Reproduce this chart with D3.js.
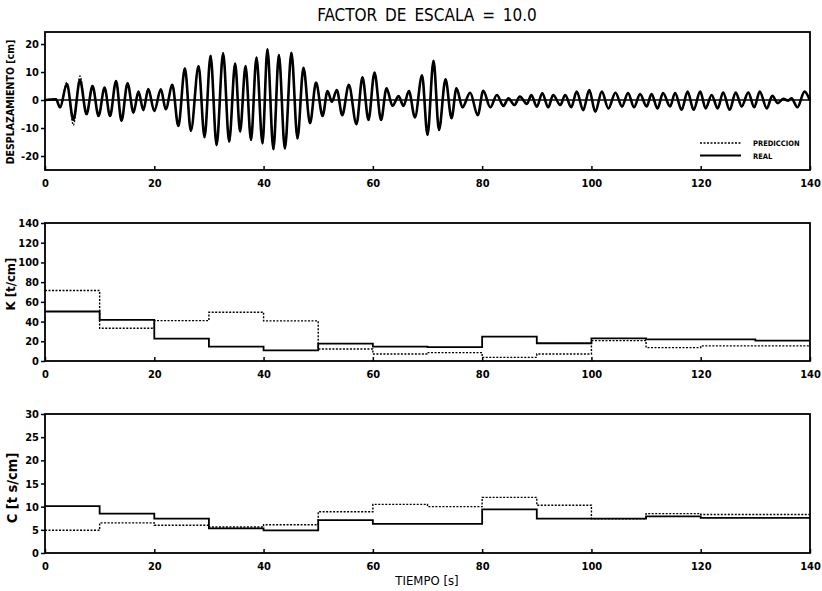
<!DOCTYPE html>
<html>
<head>
<meta charset="utf-8">
<script src="https://cdn.jsdelivr.net/npm/d3@7"></script>
<style>
    body { margin: 0; background: #fff; }
    svg text { font-family: "Liberation Sans Narrow", "DejaVu Sans Condensed", "Liberation Sans", sans-serif; fill: #000; }
    .tick text { font-weight: bold; font-size: 11px; }
</style>
</head>
<body>
<svg id="chart" width="822" height="591"></svg>
<script>
    // desplazamiento: picos y valles [t (s), d (cm)]
    var desp_real = [
        [0,0],[2.0,0.3],[2.75,-2.6],[4.0,5.7],[5.2,-7.1],[6.4,7.1],[7.6,-5],[8.7,5],[9.8,-5.7],[10.9,4.4],
        [11.9,-5.7],[13.0,6.8],[14.0,-7.4],[15.1,6],[16.2,-4.5],[17.1,3],[18.0,-3.6],[18.9,3.9],[20.0,-3.9],[21.2,3.8],
        [22.1,-3.3],[23.3,5.4],[24.4,-9.3],[25.6,11.3],[26.7,-11],[28.1,12.1],[29.2,-13.3],[30.3,15.8],[31.4,-16.1],[32.6,16.7],
        [33.7,-14.9],[34.8,13],[35.7,-11.3],[36.7,12.1],[37.7,-14.3],[38.7,15.2],[39.8,-15.5],[40.7,18.1],[41.8,-17.6],[42.8,16.1],
        [43.9,-17.3],[45.1,16.9],[46.2,-13.7],[47.3,11.5],[48.5,-8.3],[49.6,6.2],[50.8,-5.7],[51.7,3.2],[52.5,-0.6],[53.4,3.6],
        [54.4,-5.4],[55.6,5.4],[57.0,-8.6],[58.1,8.1],[59.2,-7.1],[60.3,9.8],[61.5,-7.1],[62.5,4.2],[63.6,-2.1],[64.7,1.4],
        [65.6,-2.1],[66.6,3.2],[67.7,-6.2],[69.0,8.8],[70.0,-12.5],[71.1,14.0],[72.1,-10.7],[73.3,7.4],[74.4,-6.5],[75.3,4.2],
        [76.4,-2.6],[77.8,2.6],[79.2,-5.4],[80.2,3.3],[81.5,-2.6],[82.7,1.8],[83.9,-2.1],[84.8,0.6],[85.9,-1.8],[86.9,1.2],
        [88.2,-1.4],[89.0,1.8],[90.0,-2.4],[91.0,2.4],[92.1,-2.6],[93.0,1.8],[94.3,-1.8],[95.2,1.8],[96.3,-2.6],[97.3,3.0],
        [98.5,-3.6],[99.6,3.6],[100.7,-4.2],[101.9,3.0],[103.1,-3.0],[104.4,2.6],[105.6,-2.3],[106.7,2.5],[107.8,-2.6],[108.9,2.1],
        [110.1,-2.3],[111.0,2.1],[112.1,-3],[113.1,2.5],[114.4,-2.3],[115.3,2.5],[116.5,-3.5],[117.6,3.0],[118.7,-3.5],[119.9,3.0],
        [120.9,-3.0],[122.0,1.8],[123.1,-3],[124.1,2.7],[125.3,-3.5],[126.4,2.7],[127.5,-2.3],[128.7,2.7],[129.8,-2.6],[130.8,3.0],
        [132.1,-3],[133.1,1.5],[134.1,-1.1],[135.1,0.4],[136.0,-0.2],[136.6,0.6],[137.7,-2.6],[139.0,3.0],[140,-0.2]
    ];
    var desp_pred = [
        [0,0],[2.0,0.4],[2.75,-2.8],[4.0,6.3],[5.2,-9.0],[6.4,8.6],[7.6,-5.5],[8.7,5.2],[9.8,-5.9],[10.9,4.6],
        [11.9,-5.8],[13.0,6.9],[14.0,-7.5],[15.1,6.1],[16.2,-4.6],[17.1,3.1],[18.0,-3.7],[18.9,4.0],[20.0,-4.0],[21.2,3.9],
        [22.1,-3.4],[23.3,5.5],[24.4,-9.4],[25.6,11.4],[26.7,-11.1],[28.1,12.2],[29.2,-13.4],[30.3,15.9],[31.4,-16.2],[32.6,16.8],
        [33.7,-15.0],[34.8,13.1],[35.7,-11.4],[36.7,12.2],[37.7,-14.4],[38.7,15.3],[39.8,-15.6],[40.7,18.2],[41.8,-17.7],[42.8,16.2],
        [43.9,-17.4],[45.1,17.0],[46.2,-13.8],[47.3,11.6],[48.5,-8.4],[49.6,6.3],[50.8,-5.8],[51.7,3.3],[52.5,-0.7],[53.4,3.7],
        [54.4,-5.5],[55.6,5.5],[57.0,-8.7],[58.1,8.2],[59.2,-7.2],[60.3,9.9],[61.5,-7.2],[62.5,4.3],[63.6,-2.2],[64.7,1.5],
        [65.6,-2.2],[66.6,3.3],[67.7,-6.3],[69.0,8.9],[70.0,-12.6],[71.1,14.1],[72.1,-10.8],[73.3,7.5],[74.4,-6.6],[75.3,4.3],
        [76.4,-2.7],[77.8,2.7],[79.2,-5.5],[80.2,3.4],[81.5,-2.7],[82.7,1.9],[83.9,-2.2],[84.8,0.7],[85.9,-1.9],[86.9,1.3],
        [88.2,-1.5],[89.0,1.9],[90.0,-2.5],[91.0,2.5],[92.1,-2.7],[93.0,1.9],[94.3,-1.9],[95.2,1.9],[96.3,-2.7],[97.3,3.1],
        [98.5,-3.7],[99.6,3.7],[100.7,-4.3],[101.9,3.1],[103.1,-3.1],[104.4,2.7],[105.6,-2.4],[106.7,2.6],[107.8,-2.7],[108.9,2.2],
        [110.1,-2.4],[111.0,2.2],[112.1,-3.1],[113.1,2.6],[114.4,-2.4],[115.3,2.6],[116.5,-3.6],[117.6,3.1],[118.7,-3.6],[119.9,3.1],
        [120.9,-3.1],[122.0,1.9],[123.1,-3.1],[124.1,2.8],[125.3,-3.6],[126.4,2.8],[127.5,-2.4],[128.7,2.8],[129.8,-2.7],[130.8,3.1],
        [132.1,-3.1],[133.1,1.6],[134.1,-1.2],[135.1,0.5],[136.0,-0.3],[136.6,0.7],[137.7,-2.7],[139.0,3.1],[140,-0.3]
    ];

    // rigidez y amortiguamiento identificados por tramos de 10 s
    var tramos = [0,10,20,30,40,50,60,70,80,90,100,110,120,130];
    var k_real = [50.2,41.7,22.7,14.6,10.8,17.6,14.6,14.0,24.7,18.0,23.0,22.0,22.0,20.7];
    var k_pred = [71.5,33.2,41.0,49.5,40.7,12.2,7.1,8.5,3.7,7.1,20.7,13.6,15.3,15.3];
    var c_real = [10.1,8.5,7.4,5.3,4.9,7.1,6.3,6.3,9.4,7.4,7.4,7.9,7.6,7.6];
    var c_pred = [4.9,6.5,6.0,5.6,6.1,8.9,10.5,10.0,12.0,10.3,7.4,8.5,8.3,8.3];

    var x_ticks = [0,20,40,60,80,100,120,140];
    var desp_ticks = [-20,-10,0,10,20];
    var k_ticks = [0,20,40,60,80,100,120,140];
    var c_ticks = [0,5,10,15,20,25,30];

    var svg = d3.select("#chart");
    var left = 45, right = 810;
    var x = d3.scaleLinear().domain([0,140]).range([left,right]);

    function escalones(vals){
        var pts = tramos.map(function(t,i){ return [t, vals[i]]; });
        pts.push([140, vals[vals.length-1]]);
        return pts;
    }

    function panel(top, bottom, ydom, yticks, ylabel, ylabelSize, lx, ly){
        var y = d3.scaleLinear().domain(ydom).range([bottom, top]);
        var g = svg.append("g");

        var ax = g.append("g").attr("transform", "translate(0," + bottom + ")")
            .call(d3.axisBottom(x).tickValues(x_ticks).tickSizeInner(-4).tickSizeOuter(0).tickPadding(9).tickFormat(function(d){ return String(d); }));
        ax.select(".domain").remove();
        ax.selectAll(".tick line").attr("stroke-width", 1.5);

        var ay = g.append("g").attr("transform", "translate(" + left + ",0)")
            .call(d3.axisLeft(y).tickValues(yticks).tickSizeInner(4).tickSizeOuter(0).tickPadding(2).tickFormat(function(d){ return String(d); }));
        ay.select(".domain").remove();
        ay.selectAll(".tick line").attr("stroke-width", 1.5);

        g.append("rect").attr("x", left).attr("y", top)
            .attr("width", right-left).attr("height", bottom-top)
            .attr("fill", "none").attr("stroke", "#000").attr("stroke-width", 1.8);

        g.append("text")
            .attr("transform", "translate(" + lx + "," + ly + ") rotate(-90)")
            .attr("text-anchor", "middle")
            .style("font-weight", "bold").style("font-size", ylabelSize + "px")
            .text(ylabel);

        return {g: g, y: y};
    }

    // ---- desplazamiento
    var p1 = panel(32, 170, [-25,24.3], desp_ticks, "DESPLAZAMIENTO  [cm]", 10.5, 14, 102);
    p1.g.append("line").attr("x1", left).attr("x2", right)
        .attr("y1", p1.y(0)).attr("y2", p1.y(0))
        .attr("stroke", "#000").attr("stroke-width", 1.5);
    var linea1 = d3.line().x(function(d){ return x(d[0]); }).y(function(d){ return p1.y(d[1]); }).curve(d3.curveMonotoneX);
    p1.g.append("path").datum(desp_pred).attr("d", linea1)
        .attr("fill", "none").attr("stroke", "#000").attr("stroke-width", 1.3).attr("stroke-dasharray", "2,1.5");
    p1.g.append("path").datum(desp_real).attr("d", linea1)
        .attr("fill", "none").attr("stroke", "#000").attr("stroke-width", 2.6);

    // leyenda
    var ley = p1.g.append("g");
    ley.append("line").attr("x1", 700).attr("x2", 741).attr("y1", 143).attr("y2", 143)
        .attr("stroke", "#000").attr("stroke-width", 1.3).attr("stroke-dasharray", "2,1.5");
    ley.append("line").attr("x1", 700).attr("x2", 741).attr("y1", 155.5).attr("y2", 155.5)
        .attr("stroke", "#000").attr("stroke-width", 1.8);
    ley.append("text").attr("x", 753).attr("y", 146).style("font-size", "7.5px").style("font-weight", "bold").text("PREDICCION");
    ley.append("text").attr("x", 753).attr("y", 158.5).style("font-size", "7.5px").style("font-weight", "bold").text("REAL");

    // ---- rigidez
    var p2 = panel(223, 361, [0,140], k_ticks, "K  [t/cm]", 13, 15, 284);
    var linea2 = d3.line().x(function(d){ return x(d[0]); }).y(function(d){ return p2.y(d[1]); }).curve(d3.curveStepAfter);
    p2.g.append("path").datum(escalones(k_pred)).attr("d", linea2)
        .attr("fill", "none").attr("stroke", "#000").attr("stroke-width", 1.4).attr("stroke-dasharray", "2,1.5");
    p2.g.append("path").datum(escalones(k_real)).attr("d", linea2)
        .attr("fill", "none").attr("stroke", "#000").attr("stroke-width", 1.8);

    // ---- amortiguamiento
    var p3 = panel(414, 553, [0,30], c_ticks, "C  [t s/cm]", 14.5, 17, 488);
    var linea3 = d3.line().x(function(d){ return x(d[0]); }).y(function(d){ return p3.y(d[1]); }).curve(d3.curveStepAfter);
    p3.g.append("path").datum(escalones(c_pred)).attr("d", linea3)
        .attr("fill", "none").attr("stroke", "#000").attr("stroke-width", 1.4).attr("stroke-dasharray", "2,1.5");
    p3.g.append("path").datum(escalones(c_real)).attr("d", linea3)
        .attr("fill", "none").attr("stroke", "#000").attr("stroke-width", 1.8);

    // titulos
    svg.append("text").attr("x", 427).attr("y", 21).attr("text-anchor", "middle")
        .style("font-size", "17px").style("word-spacing", "3px").text("FACTOR  DE  ESCALA  =  10.0");
    svg.append("text").attr("x", 427).attr("y", 585).attr("text-anchor", "middle")
        .style("font-size", "13px").text("TIEMPO  [s]");
</script>
</body>
</html>
